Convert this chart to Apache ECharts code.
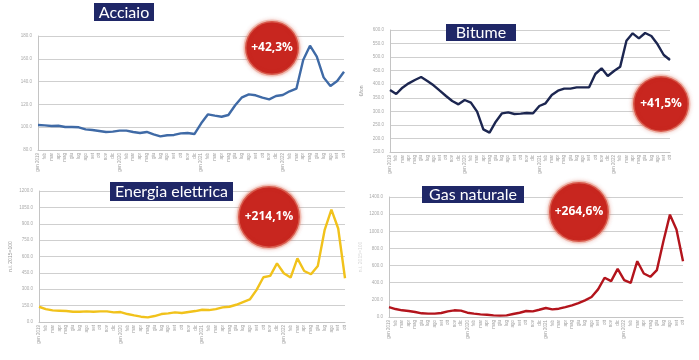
<!DOCTYPE html>
<html>
<head>
<meta charset="utf-8">
<script src="https://cdn.jsdelivr.net/npm/echarts@6/dist/echarts.min.js"></script>
<style>html,body{margin:0;padding:0;background:#fff}#c{width:699px;height:360px}</style>
</head>
<body>
<div id="c"></div>
<script>
const months = [
 'gen 2019','feb','mar','apr','mag','giu','lug','ago','set','ott','nov','dic',
 'gen 2020','feb','mar','apr','mag','giu','lug','ago','set','ott','nov','dic',
 'gen 2021','feb','mar','apr','mag','giu','lug','ago','set','ott','nov','dic',
 'gen 2022','feb','mar','apr','mag','giu','lug','ago','set','ott'
];
const acciaio = [101.9,101.6,101.1,101.3,100.2,100.2,99.9,98.1,97.5,96.7,95.8,96.1,
 97.0,97.0,95.8,94.9,95.8,93.7,92.0,92.9,93.2,94.6,94.9,94.0,
 103.4,111.3,110.1,109.2,110.7,119.2,126.2,128.8,128.0,125.9,124.4,127.4,
 128.2,131.5,133.8,159.0,171.5,161.9,143.7,136.1,140.5,148.7];
const bitume = [378.7,363.9,387.3,403.3,415.6,426.6,411.9,395.9,376.2,356.6,338.1,325.8,
 341.8,332.0,298.8,233.6,221.3,261.9,292.6,296.3,290.2,291.4,293.9,292.6,
 319.7,329.5,360.2,376.2,383.6,383.6,388.5,388.5,388.5,437.7,458.6,430.3,
 448.8,464.8,560.7,587.7,569.3,588.9,577.9,547.1,507.8,489.3];
const energia = [139.7,118.4,106.3,103.2,100.2,94.1,94.1,97.2,94.1,97.2,97.2,88.0,
 91.1,72.9,60.7,48.6,42.5,54.6,72.9,78.9,88.0,82.0,91.1,100.2,
 112.3,109.3,118.4,133.6,139.7,157.9,182.2,206.5,294.5,409.9,422.0,537.4,
 446.3,406.8,582.9,467.5,437.2,513.1,841.0,1029.2,856.2,400.8];
const gas = [116,93,78,70,58,43,39,39,47,66,78,74,
 50,39,31,27,19,16,19,35,50,70,66,85,
 105,89,97,116,136,163,194,233,322,458,419,562,
 430,399,651,508,469,547,884,1194,1020,651];

const panels = [
 {name:'Acciaio', data:acciaio, color:'#3f6aa6', grid:{left:38,top:36,width:306,height:114}, min:80,max:180,interval:20, yname:'', badge:'+42,3%'},
 {name:'Bitume', data:bitume, color:'#1c2650', grid:{left:390,top:30,width:280,height:122}, min:150,max:600,interval:50, yname:'€/ton', badge:'+41,5%'},
 {name:'Energia elettrica', data:energia, color:'#f1c21b', grid:{left:39,top:191,width:306,height:131}, min:0,max:1200,interval:150, yname:'n.i. 2015=100', badge:'+214,1%'},
 {name:'Gas naturale', data:gas, color:'#b3141c', grid:{left:389,top:197,width:294,height:120}, min:0,max:1400,interval:200, yname:'n.i. 2015=100', badge:'+264,6%'}
];

const chart = echarts.init(document.getElementById('c'));
const grids=[], xAxes=[], yAxes=[], series=[];
panels.forEach((p,i)=>{
  grids.push(Object.assign({containLabel:false}, p.grid));
  xAxes.push({type:'category', gridIndex:i, data:months, boundaryGap:false,
    axisLine:{lineStyle:{color:'#c4c4c4'}}, axisTick:{show:false},
    axisLabel:{rotate:90, interval:0, fontSize:4.5, color:'#a0a0a0', margin:3, fontFamily:'Liberation Sans'}});
  yAxes.push({type:'value', gridIndex:i, min:p.min, max:p.max, interval:p.interval,
    name:p.yname, nameLocation:'middle', nameGap:26, nameRotate:90,
    nameTextStyle:{fontSize:5, color: i===3 ? '#d8d8d8' : '#999', fontFamily:'Liberation Sans'},
    axisLine:{show:true, lineStyle:{color:'#c4c4c4'}}, axisTick:{show:false},
    splitLine:{lineStyle:{color:'#cfcfcf', width:1}},
    axisLabel:{fontSize:4.5, color:'#aaaaaa', margin:6, fontFamily:'Liberation Sans', formatter:v=>v.toFixed(1)}});
  series.push({type:'line', xAxisIndex:i, yAxisIndex:i, data:p.data, showSymbol:false, smooth:false,
    lineStyle:{color:p.color, width:2.4}, itemStyle:{color:p.color}});
});

const titleBoxes = [
 {text:'Acciaio', x:94, y:3, w:60, h:18},
 {text:'Bitume', x:446, y:24, w:70, h:17},
 {text:'Energia elettrica', x:110, y:182, w:123, h:19},
 {text:'Gas naturale', x:422, y:186, w:102, h:17}
];
const badges = [
 {text:'+42,3%', cx:272, cy:48, r:27},
 {text:'+41,5%', cx:661, cy:104, r:28},
 {text:'+214,1%', cx:269, cy:217, r:31},
 {text:'+264,6%', cx:579, cy:212, r:30}
];
const graphic = [];
titleBoxes.forEach(t=>{
  graphic.push({type:'rect', left:t.x, top:t.y, shape:{width:t.w, height:t.h}, style:{fill:'#1f2767'}, z:10});
  graphic.push({type:'text', x:t.x+t.w/2, y:t.y+t.h/2+0.5, style:{text:t.text, fill:'#fff', font:'16px Lato', textAlign:'center', textVerticalAlign:'middle'}, z:11});
});
badges.forEach(b=>{
  graphic.push({type:'circle', shape:{cx:b.cx, cy:b.cy, r:b.r}, style:{fill:'#c8261f', stroke:'rgba(235,150,130,0.45)', lineWidth:3, shadowBlur:4, shadowColor:'rgba(200,60,40,0.35)'}, z:10});
  graphic.push({type:'text', x:b.cx, y:b.cy, style:{text:b.text, fill:'#fff', font:'bold 12px "Open Sans"', textAlign:'center', textVerticalAlign:'middle'}, z:11});
});

chart.setOption({
  backgroundColor:'#fff', animation:false,
  grid:grids, xAxis:xAxes, yAxis:yAxes, series:series, graphic:graphic
});
</script>
</body>
</html>
